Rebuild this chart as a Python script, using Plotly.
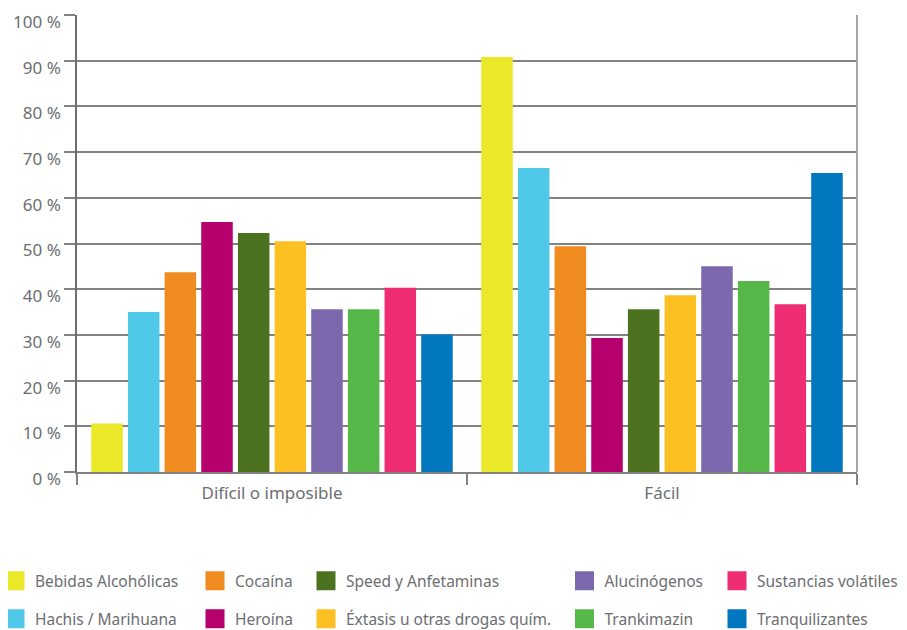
import plotly.graph_objects as go

# Data
categories = ["Difícil o imposible", "Fácil"]
series = [
    "Bebidas Alcohólicas", "Hachis / Marihuana", "Cocaína", "Heroína",
    "Speed y Anfetaminas", "Éxtasis u otras drogas quím.", "Alucinógenos",
    "Trankimazin", "Sustancias volátiles", "Tranquilizantes",
]
dificil = [10.6, 35.0, 43.7, 54.7, 52.3, 50.5, 35.6, 35.6, 40.3, 30.1]
facil = [90.8, 66.5, 49.4, 29.3, 35.6, 38.7, 45.0, 41.8, 36.7, 65.4]
colors = [
    "#EAE828", "#50C8E8", "#EF8B1F", "#B5006E", "#4C721F",
    "#FDC023", "#7B68AD", "#57B84A", "#EE2D74", "#0077BF",
]
y_ticks = list(range(0, 101, 10))
y_labels = [f"{v} %" for v in y_ticks]

TXT = "#6d6e71"
GRID = "#828282"
FONT = "Noto Sans"

fig = go.Figure()

for i, name in enumerate(series):
    fig.add_trace(go.Bar(
        x=categories, y=[dificil[i], facil[i]], name=name,
        marker=dict(color=colors[i], line=dict(width=0)),
        legendgroup=name, showlegend=False,
    ))

# legend entries: five columns of two, column-major like the original
for i, name in enumerate(series):
    fig.add_trace(go.Scatter(
        x=[None], y=[None], mode="markers", name=name,
        marker=dict(symbol="square", size=16, color=colors[i],
                    line=dict(width=3, color=colors[i])),
        legendgroup=name, legend="legend" if i < 2 else f"legend{i // 2 + 1}",
    ))

# page has an 8px body margin, so the figure is sized to fit inside the window
col_px = [-5, 195, 306, 564.5, 717]
plot_l, plot_w = 77, 780
leg_common = dict(
    yanchor="top", y=-0.2015, xanchor="left", orientation="v",
    font=dict(family=FONT, size=15.5, color=TXT),
    tracegroupgap=15, bgcolor="rgba(0,0,0,0)", borderwidth=0,
)
legends = {}
for k, px in enumerate(col_px):
    key = "legend" if k == 0 else f"legend{k + 1}"
    legends[key] = dict(leg_common, x=(px - plot_l) / plot_w)

fig.update_layout(
    barmode="group", bargap=0.06, bargroupgap=0.14,
    width=899, height=622,
    margin=dict(l=69, r=50, t=7, b=158, autoexpand=False),
    paper_bgcolor="white", plot_bgcolor="white",
    font=dict(family=FONT, color=TXT, size=17),
    **legends,
)

fig.update_yaxes(
    range=[0, 100], tickvals=y_ticks, ticktext=y_labels, automargin=False,
    showgrid=True, gridcolor=GRID, gridwidth=1.5, zeroline=False,
    ticks="outside", ticklen=11, tickcolor=GRID, tickwidth=1.5,
    showline=True, linecolor="#6d6e71", linewidth=1.5,
    ticklabelshift=7, ticklabeloverflow="allow",
    tickfont=dict(family=FONT, size=17, color=TXT),
)
fig.update_xaxes(
    showline=True, linecolor=GRID, linewidth=1.5, automargin=False,
    ticks="outside", tickson="boundaries", ticklen=11,
    tickcolor=GRID, tickwidth=1.5, ticklabelstandoff=5,
    tickfont=dict(family=FONT, size=17, color=TXT),
)

# light frame on the right edge
fig.add_shape(type="line", xref="paper", yref="paper", x0=1, x1=1, y0=0, y1=1,
              line=dict(color="#a6a6a6", width=2))

fig.write_html("out.html")
